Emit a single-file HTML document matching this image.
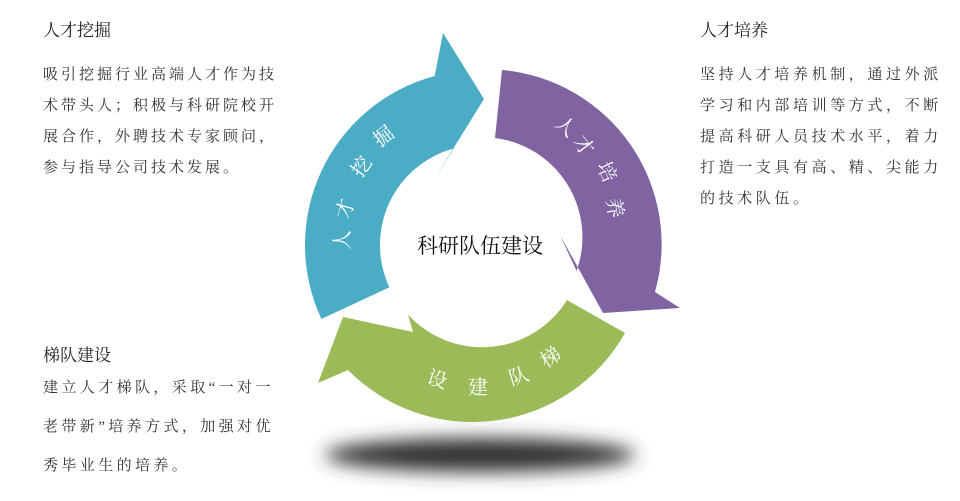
<!DOCTYPE html>
<html><head><meta charset="utf-8"><style>
body{margin:0;width:960px;height:501px;background:#fff;position:relative;overflow:hidden;font-family:"Liberation Serif","Noto Serif CJK SC",serif;color:#333}
.t{position:absolute;font-size:17px;line-height:20px;color:#222}
.b{position:absolute;font-size:15px;letter-spacing:3px;line-height:31px;color:#333;white-space:nowrap}
</style></head><body>
<div class="t" style="left:43px;top:21px">人才挖掘</div>
<div class="b" style="left:43px;top:60px">吸引挖掘行业高端人才作为技<br>术带头人；积极与科研院校开<br>展合作，外聘技术专家顾问，<br>参与指导公司技术发展。</div>
<div class="t" style="left:700px;top:21px">人才培养</div>
<div class="b" style="left:700px;top:60px;letter-spacing:3.6px">坚持人才培养机制，通过外派<br>学习和内部培训等方式，不断<br>提高科研人员技术水平，着力<br>打造一支具有高、精、尖能力<br>的技术队伍。</div>
<div class="t" style="left:43px;top:346px">梯队建设</div>
<div class="b" style="left:43px;top:369px;line-height:39px;letter-spacing:3.4px">建立人才梯队，采取“一对一<br>老带新”培养方式，加强对优<br>秀毕业生的培养。</div>
<svg width="960" height="501" style="position:absolute;left:0;top:0">
<defs><filter id="bl" x="-30%" y="-100%" width="160%" height="300%"><feGaussianBlur stdDeviation="9"/></filter></defs>
<ellipse cx="480" cy="455" rx="155" ry="17" fill="#333" filter="url(#bl)"/>
<path d="M321.4,319 A175,175 0 0 1 434.7,76 L443,33 L484,99 L435,178 L454,148.4 A100,100 0 0 0 389.4,287.3 Z" fill="#4BACC6"/>
<path d="M502,70 A175,175 0 0 1 655,292 L680,308 L603,313 L560,235 L576.6,270.9 A100,100 0 0 0 495,138 Z" fill="#8064A2"/>
<path d="M625,333 A175,175 0 0 1 348,370 L318,383 L343,317 L413,332 L408,314.5 A100,100 0 0 0 567,300 Z" fill="#9BBB59"/>
<g fill="#fff" font-size="20" text-anchor="middle" dominant-baseline="central">
<text transform="translate(343,240) rotate(-90)">人</text>
<text transform="translate(346,209) rotate(-75)">才</text>
<text transform="translate(362,167) rotate(-55)">挖</text>
<text transform="translate(384,137) rotate(-38)">掘</text>
<text transform="translate(565,127) rotate(40)">人</text>
<text transform="translate(583,146) rotate(52)">才</text>
<text transform="translate(606,172) rotate(65)">培</text>
<text transform="translate(614,208) rotate(80)">养</text>
<text transform="translate(437,380) rotate(17)">设</text>
<text transform="translate(478,388) rotate(0)">建</text>
<text transform="translate(519,377) rotate(-17)">队</text>
<text transform="translate(551,358) rotate(-32)">梯</text>
</g>
<text x="480" y="246" text-anchor="middle" dominant-baseline="central" font-size="21" fill="#111">科研队伍建设</text>
</svg>
</body></html>
